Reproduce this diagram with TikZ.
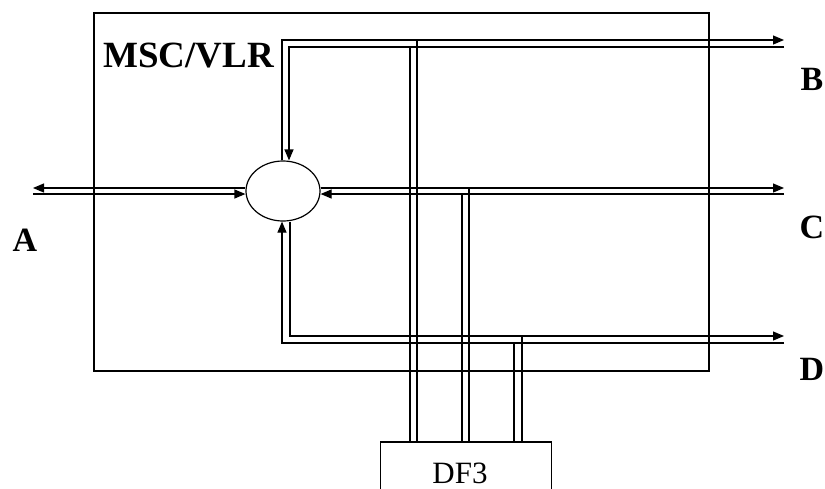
\documentclass[tikz,border=0pt]{standalone}
\usepackage{fontspec}
\setmainfont{Liberation Serif}
\usetikzlibrary{arrows.meta,shapes.geometric}
\begin{document}
\begin{tikzpicture}[x=1pt,y=-1pt,
  boxline/.style={draw, line width=1.2pt, inner sep=0pt},
  pair/.style={line width=1.2pt, line join=miter},
  arr/.style={pair,-{Triangle[length=11pt,width=9pt]}},
  bigletter/.style={font=\fontsize{34}{38}\selectfont\bfseries, inner sep=0pt, anchor=base}]
\useasboundingbox (0,0) rectangle (825,488);
\clip (0,0) rectangle (825,488);
% nodes
\node[boxline, rectangle, minimum width=615pt, minimum height=358pt] (msc) at (401.5,192) {};
\node[boxline, ellipse, minimum width=74pt, minimum height=60pt] (e) at (283,191) {};
\node[boxline, rectangle, minimum width=171pt, minimum height=48pt] (df) at (466.3,466) {};
\node[font=\fontsize{37}{40}\selectfont\bfseries, inner sep=0pt, anchor=base west] (msclabel) at (103,67) {MSC/VLR};
\node[font=\fontsize{31}{34}\selectfont, inner sep=0pt, anchor=base] (dflabel) at (460,483) {DF3};
\node[bigletter] (la) at (25,251.5) {A};
\node[bigletter] (lb) at (812,90.7) {B};
\node[bigletter] (lc) at (812,238) {C};
\node[bigletter] (ld) at (812,380) {D};
% end coordinates
\coordinate (aout) at (33,188);
\coordinate (ain) at (33,194);
\coordinate (bout) at (784,40);
\coordinate (bin) at (784,47);
\coordinate (cout) at (784,188);
\coordinate (cin) at (784,194);
\coordinate (dout) at (784,336);
\coordinate (din) at (784,343);
% A
\draw[arr] (e.west |- 0,188) -- (aout);
\draw[arr] (ain) -- (e.west |- 0,194);
% B
\draw[arr] (e.north -| 282,0) |- (bout);
\draw[arr] (bin) -| (e.north -| 289,0);
\draw[pair] (417,40) -- (417,0 |- df.north);
\draw[pair] (410,47) -- (410,0 |- df.north);
% C
\draw[arr] (e.east |- 0,188) -- (cout);
\draw[arr] (cin) -- (e.east |- 0,194);
\draw[pair] (469,188) -- (469,0 |- df.north);
\draw[pair] (462,194) -- (462,0 |- df.north);
% D
\draw[arr] (e.south -| 290,0) |- (dout);
\draw[arr] (din) -| (e.south -| 282,0);
\draw[pair] (522,336) -- (522,0 |- df.north);
\draw[pair] (514,343) -- (514,0 |- df.north);
\end{tikzpicture}
\end{document}
